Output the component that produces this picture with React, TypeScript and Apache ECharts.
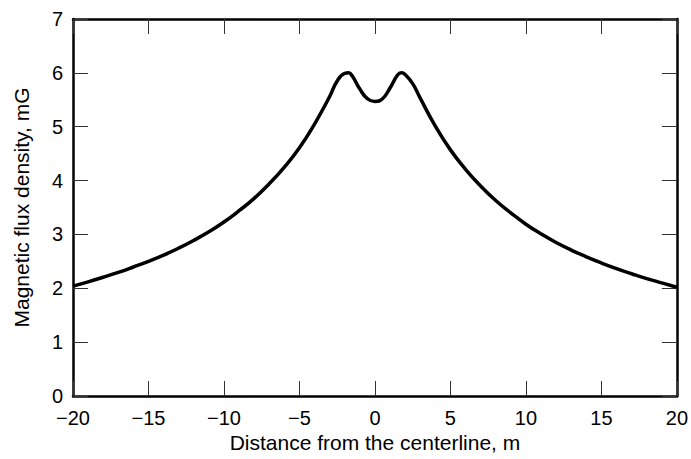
import React, { useEffect, useRef } from "react";
import * as echarts from "echarts";

const distances = [
  -20, -19, -18, -17, -16, -15, -14, -13, -12, -11, -10, -9, -8, -7, -6, -5, -4, -3, -2.5, -2, -1.75, -1.5, -1, -0.5, 0,
  0.5, 1, 1.5, 1.75, 2, 2.5, 3, 4, 5, 6, 7, 8, 9, 10, 11, 12, 13, 14, 15, 16, 17, 18, 19, 20,
];
const fluxDensity = [
  2.04, 2.12, 2.205, 2.295, 2.395, 2.5, 2.615, 2.745, 2.89, 3.05, 3.23, 3.44, 3.67, 3.94, 4.25, 4.61, 5.05, 5.56, 5.85, 5.99, 6.0, 5.94, 5.7, 5.52, 5.47,
  5.52, 5.72, 5.96, 6.0, 5.97, 5.8, 5.53, 5.01, 4.57, 4.21, 3.9, 3.63, 3.4, 3.19, 3.01, 2.85, 2.71, 2.585, 2.47, 2.365, 2.27, 2.18, 2.1, 2.02,
];
const xTitle = "Distance from the centerline, m";
const yTitle = "Magnetic flux density, mG";

const FONT = "'Liberation Sans', Arial, Helvetica, sans-serif";

export default function App() {
  const ref = useRef<HTMLDivElement>(null);
  useEffect(() => {
    if (!ref.current) return;
    const chart = echarts.init(ref.current, null, { renderer: "svg" });
    const data = distances.map((d, i) => [d, fluxDensity[i]]);
    const lineStyle = { color: "#000", width: 2.5 };
    const tick = { show: true, inside: true, length: 15, lineStyle: { color: "#333", width: 1 } };
    const label = { color: "#000", fontFamily: FONT, fontSize: 21 };
    const tickLabel = { color: "#000", fontFamily: FONT, fontSize: 20, lineHeight: 17 };
    const fmt = (v: number) => String(v).replace("-", "\u2212");
    chart.setOption({
      animation: false,
      backgroundColor: "#fff",
      grid: { left: 73, right: 14, top: 19, bottom: 63 },
      xAxis: [
        {
          type: "value",
          min: -20,
          max: 20,
          interval: 5,
          position: "bottom",
          name: xTitle,
          nameLocation: "middle",
          nameGap: 34,
          nameTextStyle: { ...label },
          axisLine: { show: true, onZero: false, lineStyle },
          axisTick: tick,
          axisLabel: { ...tickLabel, margin: 13, formatter: fmt },
          splitLine: { show: false },
        },
        {
          type: "value",
          min: -20,
          max: 20,
          interval: 5,
          position: "top",
          axisLine: { show: true, onZero: false, lineStyle },
          axisTick: tick,
          axisLabel: { show: false },
          splitLine: { show: false },
        },
      ],
      yAxis: [
        {
          type: "value",
          min: 0,
          max: 7,
          interval: 1,
          position: "left",
          name: yTitle,
          nameLocation: "middle",
          nameGap: 41,
          nameTextStyle: { ...label },
          axisLine: { show: true, onZero: false, lineStyle },
          axisTick: tick,
          axisLabel: { ...tickLabel, margin: 10 },
          splitLine: { show: false },
        },
        {
          type: "value",
          min: 0,
          max: 7,
          interval: 1,
          position: "right",
          axisLine: { show: true, onZero: false, lineStyle },
          axisTick: tick,
          axisLabel: { show: false },
          splitLine: { show: false },
        },
      ],
      series: [
        {
          type: "line",
          data,
          smooth: 0.5,
          showSymbol: false,
          lineStyle: { color: "#000", width: 3.5 },
          xAxisIndex: 0,
          yAxisIndex: 0,
        },
      ],
    });
    return () => chart.dispose();
  }, []);
  return <div ref={ref} style={{ width: 691, height: 459, position: "absolute", left: 0, top: 0 }} />;
}
